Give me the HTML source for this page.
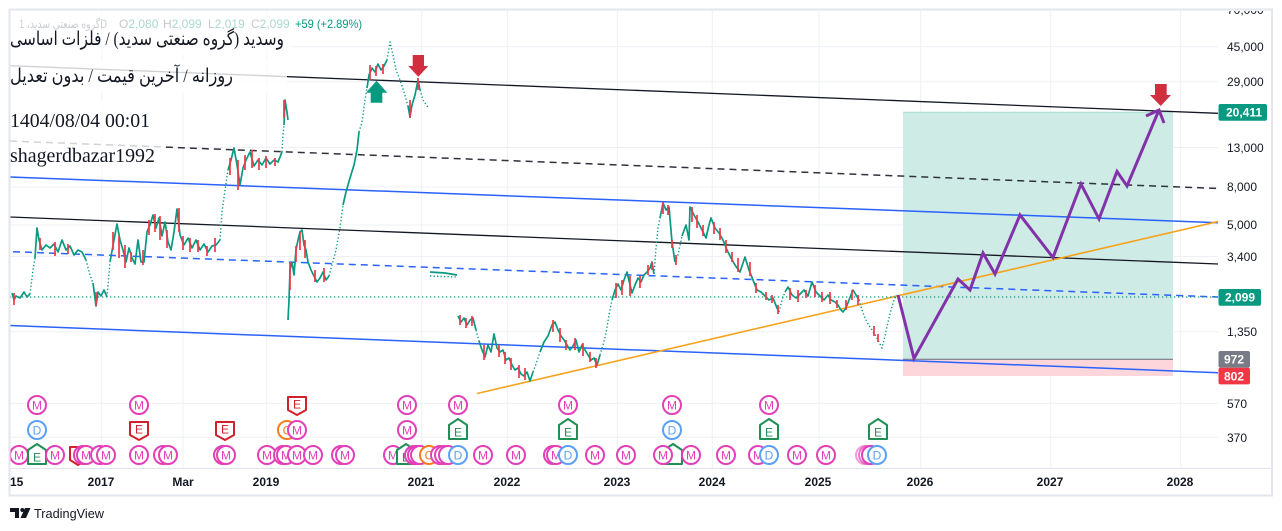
<!DOCTYPE html>
<html><head><meta charset="utf-8">
<style>
html,body{margin:0;padding:0;background:#fff;width:1282px;height:531px;overflow:hidden}
svg{display:block}
.cm{fill:#fff;stroke:#e23fb8;stroke-width:2}.tm{fill:#e23fb8}
.cd{fill:#fff;stroke:#5aa1f5;stroke-width:2}.td{fill:#5aa1f5}
.cc{fill:#fff;stroke:#f57c1f;stroke-width:2}.tc{fill:#f57c1f}
.er{fill:#fff;stroke:#d3202a;stroke-width:2;stroke-linejoin:round}.ter{fill:#d3202a}
.eg{fill:#fff;stroke:#1f8f55;stroke-width:2;stroke-linejoin:round}.teg{fill:#1f8f55}
.mk text{font-family:"Liberation Sans",sans-serif;font-size:12px;text-anchor:middle}
.pl{font-family:"Liberation Sans",sans-serif;font-size:12px;fill:#131722}
.tl{font-family:"Liberation Sans",sans-serif;font-size:12px;font-weight:bold;fill:#131722;text-anchor:middle}
.tag{font-family:"Liberation Sans",sans-serif;font-size:12px;font-weight:bold;fill:#fff}
</style></head>
<body>
<svg width="1282" height="531" viewBox="0 0 1282 531" xmlns="http://www.w3.org/2000/svg">
<defs>
<clipPath id="plot"><rect x="10" y="10" width="1208" height="458"/></clipPath>
<clipPath id="pax"><rect x="1218" y="11" width="54" height="457"/></clipPath>
<clipPath id="tax"><rect x="10" y="468" width="1262" height="27"/></clipPath>
</defs>

<!-- grid -->
<g stroke="#eef0f5" stroke-width="1">
<path d="M10,46.7H1218M10,81.7H1218M10,147.5H1218M10,187H1218M10,225H1218M10,256.5H1218M10,331.7H1218M10,403.4H1218M10,437.3H1218"/>
<path d="M101.7,10V468M183,10V468M266.7,10V468M421.7,10V468M507.3,10V468M617.3,10V468M712.3,10V468M819,10V468M920.7,10V468M1050.7,10V468M1180.7,10V468"/>
</g>

<g clip-path="url(#plot)">
<!-- projection boxes -->
<rect x="903" y="112" width="270" height="247.3" fill="#cfebe5"/>
<line x1="903" y1="112.3" x2="1173" y2="112.3" stroke="#a9dccf" stroke-width="1"/>
<rect x="903" y="359.3" width="270" height="16.7" fill="#fcd6da"/>
<line x1="903" y1="359.3" x2="1173" y2="359.3" stroke="#787b86" stroke-width="1.2"/>

<!-- trend lines -->
<line x1="10" y1="65.7" x2="1218" y2="113.3" stroke="#131722" stroke-width="1.3"/>
<line x1="10" y1="141" x2="1218" y2="188.5" stroke="#2f323c" stroke-width="1.5" stroke-dasharray="7 5"/>
<line x1="10" y1="177" x2="1218" y2="222.7" stroke="#2962ff" stroke-width="1.5"/>
<line x1="10" y1="217" x2="1218" y2="264" stroke="#131722" stroke-width="1.3"/>
<line x1="13" y1="251.7" x2="1218" y2="297" stroke="#2962ff" stroke-width="1.5" stroke-dasharray="7 5"/>
<line x1="10" y1="325.5" x2="1218" y2="372.7" stroke="#2962ff" stroke-width="1.5"/>
<line x1="477" y1="393.5" x2="1218" y2="221.5" stroke="#f7a21b" stroke-width="1.6"/>
<line x1="10" y1="297" x2="1218" y2="297" stroke="#089981" stroke-width="1.3" stroke-dasharray="1.3 2.7"/>

<!-- price trace -->
<g fill="none" stroke-linejoin="round">
<path stroke="#089981" stroke-width="1.7" d="M12,293 L14,300 L16,296 L20,298 L24,292 L27,297 L30,294
M35,258 L37,228 L39,240 L42,250 L46,245 L50,248 L54,244 L58,252 L62,240 L66,250 L70,246 L74,255 L78,250 L82,252 L86,260
M93,283 L96,306 L98,292 L101,296 L104,290 L107,297
M110,262 L114,240 L117,224 L120,240 L123,250 L126,262 L129,248 L132,258 L135,264 L138,240 L141,262 L144,262 L147,232 L150,225 L153,215 L156,228 L159,218 L162,236 L165,222 L168,242 L171,250 L174,232 L177,209 L180,235 L184,245 L188,238 L192,248 L196,240 L200,250 L204,244 L208,252 L212,246 L216,245 L220,240
M228,170 L231,160 L234,148 L237,165 L240,185 L243,168 L246,160 L250,152 L254,166 L258,160 L262,165 L266,158 L270,164 L274,160 L278,162 L282,152
M284,125 L285,100 L287,112 L288,120
M288,320 L289,300 L290,270 L292,262 L294,275 L296,250 L298,240 L300,232 L302,230 L304,245 L306,250 L308,262 L311,270 L314,276 L317,282 L320,278 L323,272 L326,280 L329,276
M343,205 L346,192 L350,178 L354,165 L357,150 L359,132
M367,88 L369,75 L372,68 L375,72 L378,64 L381,70 L384,66 L387,60
M408,106 L410,117 L412,105 L415,95 L418,80 L420,90
M430,272 L445,273 L457,275
M458,316 L461,322 L464,318 L467,325 L470,320 L473,318 L476,330
M479,341 L482,350 L485,357 L488,345 L491,352 L494,334 L497,348 L500,352 L503,350 L506,360 L509,358 L512,365 L515,370 L518,368 L521,374 L524,376 L527,372 L530,381 L533,372
M540,352 L544,342 L548,336 L552,325 L555,322 L558,330 L561,336 L564,340 L567,345 L570,350 L573,346 L576,340 L579,352 L582,345 L585,350 L588,355 L591,360 L594,358 L597,365 L600,355
M612,300 L615,290 L618,284 L621,290 L624,280 L627,272 L630,285 L632,293 L635,285 L638,278 L641,282 L644,275 L647,272 L650,268 L652,262 L654,274
M660,218 L663,203 L666,210 L669,207 L672,242 L675,262
M682,236 L686,225 L689,240 L690,207 L694,215 L698,222 L702,230 L706,238 L709,225 L711,218 L715,228 L719,233 L723,240 L727,250 L731,258 L735,265 L740,272 L745,257 L749,270 L753,280 L757,290 L761,292 L765,296 L769,300 L773,298 L777,308 L779,312
M785,292 L788,287 L792,295 L796,298 L800,294 L804,290 L808,296 L812,282 L816,292 L820,296 L824,300 L828,295 L831,300 L835,302 L838,305 L841,310 L843,312 L846,308 L849,300 L853,290 L856,295 L859,300"/>
<path stroke="#089981" stroke-width="1.4" stroke-dasharray="1.3 2.2" d="M30,294 L33,270 L35,258
M86,260 L90,275 L93,283
M107,297 L110,262
M220,240 L222,212 L225,190 L228,170
M282,152 L283,135 L284,125
M329,276 L332,265 L336,250 L340,228 L343,205
M359,132 L362,122 L365,100 L367,88
M387,60 L390,42 L393,55 L396,70 L400,80 L404,92 L408,106
M420,90 L423,100 L427,106 L429,108
M430,276 L457,277
M476,330 L479,341
M533,372 L536,364 L540,352
M600,355 L603,345 L606,333 L609,315 L612,300
M654,274 L656,248 L658,228 L660,218
M675,262 L678,255 L682,236
M779,312 L782,300 L785,292
M859,300 L862,310 L865,318 L868,324 L872,330 L876,336 L879,342 L882,348 L885,336 L888,322 L891,310 L894,300 L897,295"/>
<path stroke="#f23645" stroke-width="1.7" d="M14,293V305M40,238V250M55,242V256M68,244V254M96,292V306M113,232V250M119,236V258M125,245V268M131,252V262M143,250V265M149,220V235M155,214V232M160,216V240M167,230V248M179,208V232M183,236V250M190,238V252M198,240V252M207,246V256M215,238V252
M230,158V175M238,160V190M245,155V170M252,150V168M259,158V170M266,156V168M275,158V166M284,100V118
M290,262V290M296,246V262M300,232V250M305,240V258M315,270V282M324,268V282M370,65V80M376,66V76M383,64V74M410,100V118M418,78V90
M460,315V325M466,318V328M472,316V326M484,345V360M499,345V357M505,352V364M511,358V370M519,365V378M525,368V380M553,320V332M560,328V342M566,340V350M575,338V350M583,343V356M590,352V362M596,358V368
M616,283V298M622,280V295M630,276V296M640,276V288M648,265V275M652,262V270M663,202V214M668,205V215M672,240V248M676,255V265
M692,207V222M697,215V228M703,225V236M714,222V234M720,228V240M726,240V253M732,252V262M738,258V272M750,262V276M756,283V293M766,292V300M772,295V303M778,305V314
M790,288V300M798,290V302M806,290V298M815,285V297M822,292V302M830,292V304M837,300V308M846,300V310M852,290V300M858,295V305M874,326V336M878,334V342"/>
</g>

<!-- projection path -->
<path d="M898,295 L914,358.5 L958,279 L970,290 L983,253 L995,274 L1020,215 L1053,257.5 L1081,184 L1099,219 L1117,171.5 L1127,186 L1159,110 M1146,116 L1159,110 L1164,123" fill="none" stroke="#8233aa" stroke-width="3" stroke-linejoin="miter"/>

<!-- arrows -->
<polygon points="376.5,80.7 387.3,92.7 382.3,92.7 382.3,102.7 370.7,102.7 370.7,92.7 366,92.7" fill="#089981"/>
<polygon points="412.7,55 424,55 424,66 428.3,66 418.3,76.7 408.3,66 412.7,66" fill="#d12f3f"/>
<polygon points="1155,84 1166.7,84 1166.7,95 1171,95 1160.7,106 1150,95 1155,95" fill="#d12f3f"/>

<!-- markers -->
<g class="mk">
<circle class="cm" cx="37" cy="405" r="9"/><text class="tm" x="37" y="409.3">M</text>
<circle class="cm" cx="139" cy="405" r="9"/><text class="tm" x="139" y="409.3">M</text>
<polygon class="er" points="288,397 306,397 306,410 297,415 288,410"/><text class="ter" x="297" y="408.5">E</text>
<circle class="cm" cx="407" cy="405" r="9"/><text class="tm" x="407" y="409.3">M</text>
<circle class="cm" cx="458" cy="405" r="9"/><text class="tm" x="458" y="409.3">M</text>
<circle class="cm" cx="568" cy="405" r="9"/><text class="tm" x="568" y="409.3">M</text>
<circle class="cm" cx="672" cy="405" r="9"/><text class="tm" x="672" y="409.3">M</text>
<circle class="cm" cx="769" cy="405" r="9"/><text class="tm" x="769" y="409.3">M</text>

<circle class="cd" cx="37" cy="430" r="9"/><text class="td" x="37" y="434.3">D</text>
<polygon class="er" points="130,422 148,422 148,435 139,440 130,435"/><text class="ter" x="139" y="433.5">E</text>
<polygon class="er" points="216,422 234,422 234,435 225,440 216,435"/><text class="ter" x="225" y="433.5">E</text>
<circle class="cc" cx="287" cy="430" r="9"/><text class="tc" x="287" y="434.3">C</text>
<circle class="cm" cx="297" cy="430" r="9"/><text class="tm" x="297" y="434.3">M</text>
<circle class="cm" cx="407" cy="430" r="9"/><text class="tm" x="407" y="434.3">M</text>
<polygon class="eg" points="449,425 458,419 467,425 467,439 449,439"/><text class="teg" x="458" y="436.3">E</text>
<polygon class="eg" points="559,425 568,419 577,425 577,439 559,439"/><text class="teg" x="568" y="436.3">E</text>
<circle class="cd" cx="672" cy="430" r="9"/><text class="td" x="672" y="434.3">D</text>
<polygon class="eg" points="760,425 769,419 778,425 778,439 760,439"/><text class="teg" x="769" y="436.3">E</text>
<polygon class="eg" points="869,425 878,419 887,425 887,439 869,439"/><text class="teg" x="878" y="436.3">E</text>

<circle class="cm" cx="19" cy="455" r="9"/><text class="tm" x="19" y="459.3">M</text>
<polygon class="eg" points="28,450 37,444 46,450 46,464 28,464"/><text class="teg" x="37" y="461.3">E</text>
<circle class="cm" cx="55" cy="455" r="9"/><text class="tm" x="55" y="459.3">M</text>
<polygon class="er" points="70,447 86,447 86,460 78,465 70,460"/>
<circle class="cm" cx="83" cy="455" r="9"/>
<circle class="cm" cx="86" cy="455" r="9"/><text class="tm" x="86" y="459.3">M</text>
<circle class="cm" cx="100" cy="455" r="9"/>
<circle class="cm" cx="106" cy="455" r="9"/><text class="tm" x="106" y="459.3">M</text>
<circle class="cm" cx="139" cy="455" r="9"/><text class="tm" x="139" y="459.3">M</text>
<circle class="cm" cx="163" cy="455" r="9"/>
<circle class="cm" cx="168" cy="455" r="9"/><text class="tm" x="168" y="459.3">M</text>
<circle class="cm" cx="223" cy="455" r="9"/>
<circle class="cm" cx="226" cy="455" r="9"/><text class="tm" x="226" y="459.3">M</text>
<circle class="cm" cx="267" cy="455" r="9"/><text class="tm" x="267" y="459.3">M</text>
<circle class="cm" cx="283" cy="455" r="9"/>
<circle class="cm" cx="286" cy="455" r="9"/><text class="tm" x="286" y="459.3">M</text>
<circle class="cm" cx="297" cy="455" r="9"/><text class="tm" x="297" y="459.3">M</text>
<circle class="cm" cx="313" cy="455" r="9"/><text class="tm" x="313" y="459.3">M</text>
<circle class="cm" cx="341" cy="455" r="9"/>
<circle class="cm" cx="345" cy="455" r="9"/><text class="tm" x="345" y="459.3">M</text>
<circle class="cm" cx="393" cy="455" r="9"/><text class="tm" x="393" y="459.3">M</text>
<polygon class="eg" points="397,450 406,444 415,450 415,464 397,464"/><text class="teg" x="406" y="461.3">E</text>
<circle class="cm" cx="414" cy="455" r="9"/>
<circle class="cm" cx="417" cy="455" r="9"/>
<circle class="cm" cx="420" cy="455" r="9"/>
<circle class="cc" cx="429" cy="455" r="9"/><text class="tc" x="429" y="459.3">C</text>
<circle class="cm" cx="440" cy="455" r="9"/>
<circle class="cm" cx="444" cy="455" r="9"/>
<circle class="cm" cx="448" cy="455" r="9"/>
<circle class="cd" cx="458" cy="455" r="9"/><text class="td" x="458" y="459.3">D</text>
<circle class="cm" cx="483" cy="455" r="9"/><text class="tm" x="483" y="459.3">M</text>
<circle class="cm" cx="516" cy="455" r="9"/><text class="tm" x="516" y="459.3">M</text>
<circle class="cm" cx="553" cy="455" r="9"/>
<circle class="cm" cx="556" cy="455" r="9"/><text class="tm" x="556" y="459.3">M</text>
<circle class="cd" cx="568" cy="455" r="9"/><text class="td" x="568" y="459.3">D</text>
<circle class="cm" cx="595" cy="455" r="9"/><text class="tm" x="595" y="459.3">M</text>
<circle class="cm" cx="626" cy="455" r="9"/><text class="tm" x="626" y="459.3">M</text>
<polygon class="eg" points="664,450 673,444 682,450 682,464 664,464"/>
<circle class="cm" cx="663" cy="455" r="9"/><text class="tm" x="663" y="459.3">M</text>
<circle class="cm" cx="691" cy="455" r="9"/><text class="tm" x="691" y="459.3">M</text>
<circle class="cm" cx="726" cy="455" r="9"/><text class="tm" x="726" y="459.3">M</text>
<circle class="cm" cx="758" cy="455" r="9"/><text class="tm" x="758" y="459.3">M</text>
<circle class="cd" cx="769" cy="455" r="9"/><text class="td" x="769" y="459.3">D</text>
<circle class="cm" cx="797" cy="455" r="9"/><text class="tm" x="797" y="459.3">M</text>
<circle class="cm" cx="826" cy="455" r="9"/><text class="tm" x="826" y="459.3">M</text>
<circle class="cm" cx="865" cy="455" r="9" opacity="0.5"/>
<circle class="cm" cx="868" cy="455" r="9" opacity="0.7"/>
<circle class="cm" cx="871" cy="455" r="9"/>
<circle class="cd" cx="877" cy="455" r="9"/><text class="td" x="877" y="459.3">D</text>
</g>
</g>

<!-- text overlay boxes -->
<rect x="10" y="11" width="283" height="44" fill="#fff" opacity="0.78"/>
<rect x="10" y="58" width="277" height="36" fill="#fff" opacity="0.8"/>
<rect x="10" y="100" width="150" height="38" fill="#fff" opacity="0.8"/>
<rect x="10" y="139" width="155" height="36" fill="#fff" opacity="0.78"/>

<!-- legend line -->
<g font-family="Liberation Sans, DejaVu Sans, sans-serif" font-size="12">
<text x="19" y="28" fill="#c9ccd2" textLength="88" lengthAdjust="spacingAndGlyphs">گروه صنعتی سدید، 1D</text>
<text x="119" y="28" fill="#c4c7cd">O<tspan fill="#a9d9cf">2,080</tspan></text>
<text x="163" y="28" fill="#c4c7cd">H<tspan fill="#a9d9cf">2,099</tspan></text>
<text x="208" y="28" fill="#c4c7cd">L<tspan fill="#a9d9cf">2,019</tspan></text>
<text x="251" y="28" fill="#c4c7cd">C<tspan fill="#a9d9cf">2,099</tspan></text>
<text x="295" y="28" fill="#089981" textLength="67" lengthAdjust="spacingAndGlyphs">+59 (+2.89%)</text>
</g>

<!-- annotation texts -->
<g fill="#131722" font-family="Liberation Serif, DejaVu Sans, serif">
<text x="10" y="45" font-size="19" textLength="274" lengthAdjust="spacingAndGlyphs">وسدید (گروه صنعتی سدید) / فلزات اساسی</text>
<text x="10" y="82" font-size="19" textLength="223" lengthAdjust="spacingAndGlyphs">روزانه / آخرین قیمت / بدون تعدیل</text>
<text x="10" y="127" font-size="20" textLength="140" lengthAdjust="spacingAndGlyphs">1404/08/04 00:01</text>
<text x="10" y="162" font-size="20" textLength="145" lengthAdjust="spacingAndGlyphs">shagerdbazar1992</text>
</g>

<!-- price axis -->
<g clip-path="url(#pax)">
<text class="pl" x="1227" y="14">70,000</text>
<text class="pl" x="1227" y="51">45,000</text>
<text class="pl" x="1227" y="86">29,000</text>
<text class="pl" x="1227" y="152">13,000</text>
<text class="pl" x="1227" y="191">8,000</text>
<text class="pl" x="1227" y="229">5,000</text>
<text class="pl" x="1227" y="261">3,400</text>
<text class="pl" x="1227" y="336">1,350</text>
<text class="pl" x="1227" y="408">570</text>
<text class="pl" x="1227" y="442">370</text>
</g>
<rect x="1218.5" y="104" width="48.5" height="16.7" rx="2" fill="#089981"/>
<text class="tag" x="1226" y="116.5">20,411</text>
<rect x="1218.5" y="289" width="42.5" height="16.7" rx="2" fill="#089981"/>
<text class="tag" x="1225" y="301.5">2,099</text>
<rect x="1218.5" y="351" width="31.5" height="16.7" rx="2" fill="#787b86"/>
<text class="tag" x="1224" y="363.5">972</text>
<rect x="1218.5" y="367.7" width="31.5" height="16.7" rx="2" fill="#f23645"/>
<text class="tag" x="1224" y="380.3">802</text>

<!-- time axis -->
<line x1="10" y1="468.5" x2="1272" y2="468.5" stroke="#e0e3eb" stroke-width="1"/>
<g clip-path="url(#tax)">
<text class="tl" x="10" y="486">2015</text>
<text class="tl" x="101" y="486">2017</text>
<text class="tl" x="183" y="486" font-weight="normal">Mar</text>
<text class="tl" x="266" y="486">2019</text>
<text class="tl" x="421" y="486">2021</text>
<text class="tl" x="507" y="486">2022</text>
<text class="tl" x="617" y="486">2023</text>
<text class="tl" x="712" y="486">2024</text>
<text class="tl" x="818" y="486">2025</text>
<text class="tl" x="920" y="486">2026</text>
<text class="tl" x="1050" y="486">2027</text>
<text class="tl" x="1180" y="486">2028</text>
</g>

<!-- frame -->
<rect x="9.5" y="9.5" width="1262.5" height="486" fill="none" stroke="#e3e6ec" stroke-width="2"/>

<!-- TradingView logo -->
<g fill="#131722">
<path d="M10,508 H19 V518 H15 V512 H10 Z"/>
<circle cx="22.3" cy="510" r="2"/>
<path d="M25,508 H30.5 L26,518 H20.5 Z"/>
</g>
<text x="34" y="518" font-family="Liberation Sans, sans-serif" font-size="13" fill="#131722" textLength="70" lengthAdjust="spacingAndGlyphs">TradingView</text>
</svg>
</body></html>
